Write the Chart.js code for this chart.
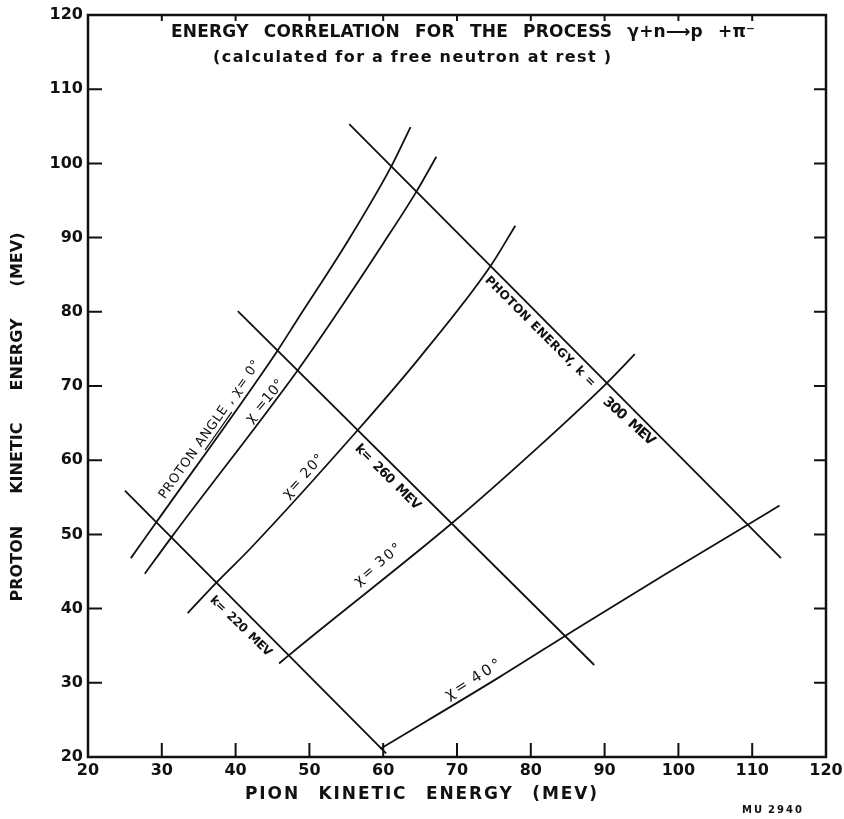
<!DOCTYPE html>
<html>
<head>
<meta charset="utf-8">
<script src="https://cdn.jsdelivr.net/npm/chart.js@4.4.0/dist/chart.umd.min.js"></script>
<style>
  html, body { margin: 0; padding: 0; background: #fff; }
  canvas { display: block; }
</style>
</head>
<body>
<canvas id="chart" width="844" height="819"></canvas>
<script>
// points, [pion T, proton T] in MeV
const chi0 = [[25.8, 46.8], [29.3, 51.7], [45.7, 74.8], [48.4, 79.0], [55.0, 89.2], [61.1, 99.6], [63.7, 104.9]];
const chi10 = [[27.7, 44.7], [31.3, 49.6], [48.4, 72.1], [53.2, 79.0], [60.0, 89.2], [64.5, 96.2], [67.2, 100.9]];
const chi20 = [[33.5, 39.4], [37.4, 43.5], [42.0, 48.1], [56.5, 64.0], [65.0, 73.9], [74.5, 86.1], [77.9, 91.6]];
const chi30 = [[45.9, 32.6], [47.2, 33.7], [69.3, 51.5], [80.6, 61.4], [90.3, 70.4], [94.1, 74.3]];
const chi40 = [[59.6, 21.1], [75.8, 30.8], [86.7, 37.6], [98.0, 44.5], [109.4, 51.3], [113.7, 53.9]];

// photon energy lines
const k220 = [[25.0, 55.9], [60.4, 20.5]];
const k260 = [[40.3, 80.1], [88.6, 32.4]];
const k300 = [[55.4, 105.3], [113.9, 46.8]];

const xTickValues = [20, 30, 40, 50, 60, 70, 80, 90, 100, 110, 120];
const yTickValues = [20, 30, 40, 50, 60, 70, 80, 90, 100, 110, 120];

// text written along the curves
const notes = [
  { text: 'PROTON ANGLE , χ= 0°', x: 36.5, y: 64.1, angle: -54.8, size: 13, weight: 'normal', len: 166, under: 'ANGLE' },
  { text: 'χ =10°', x: 44.0, y: 67.9, angle: -50, size: 14, weight: 'normal', len: 52 },
  { text: 'χ= 20°', x: 49.2, y: 57.8, angle: -47.5, size: 14, weight: 'normal', len: 54 },
  { text: 'k= 260 MEV', x: 60.6, y: 57.7, angle: 45, size: 13, weight: 'bold', len: 87 },
  { text: 'PHOTON ENERGY, k =', x: 81.25, y: 77.3, angle: 45, size: 12, weight: 'bold', len: 151 },
  { text: '300 MEV', x: 93.3, y: 65.2, angle: 42, size: 14, weight: 'bold', len: 65 },
  { text: 'k= 220 MEV', x: 40.7, y: 37.6, angle: 44, size: 12, weight: 'bold', len: 81 },
  { text: 'χ= 30°', x: 59.3, y: 45.9, angle: -40, size: 14, weight: 'normal', len: 57 },
  { text: 'χ= 40°', x: 72.2, y: 30.4, angle: -32, size: 15, weight: 'normal', len: 63 }
];

const ink = '#111';
const family = '"DejaVu Sans", sans-serif';

// writes t centred on (cx, cy), word gaps of gapEm, stretched to len pixels by letter spacing
function drawText(ctx, t, cx, cy, angle, size, weight, len, gapEm, under) {
  ctx.save();
  ctx.translate(cx, cy);
  ctx.rotate(angle * Math.PI / 180);
  ctx.font = weight + ' ' + size + 'px ' + family;
  ctx.textAlign = 'left';
  ctx.textBaseline = 'middle';
  ctx.letterSpacing = '0px';
  const words = t.split(' ');
  const gap = gapEm * size;
  let widths = words.map(w => ctx.measureText(w).width);
  const total = widths.reduce((s, v) => s + v, 0) + gap * (words.length - 1);
  const chars = words.reduce((s, w) => s + w.length - 1, 0);
  const ls = len && chars > 0 ? (len - total) / chars : 0;
  widths = words.map((w, i) => widths[i] + ls * (w.length - 1));
  const full = widths.reduce((s, v) => s + v, 0) + gap * (words.length - 1);
  ctx.letterSpacing = ls + 'px';
  let px = -full / 2;
  words.forEach((w, i) => {
    ctx.fillText(w, px, 0);
    if (under && w === under) {
      ctx.lineWidth = 1.2;
      ctx.beginPath();
      ctx.moveTo(px, size * 0.6);
      ctx.lineTo(px + widths[i], size * 0.6);
      ctx.stroke();
    }
    px += widths[i] + gap;
  });
  ctx.restore();
}

const frame = {
  id: 'frame',
  afterDraw(chart) {
    const { ctx, chartArea: a, scales: { x, y } } = chart;
    ctx.save();
    ctx.strokeStyle = ink;
    ctx.fillStyle = ink;
    ctx.lineWidth = 2.5;
    ctx.strokeRect(a.left, a.top, a.right - a.left, a.bottom - a.top);

    // inward tick marks
    ctx.lineWidth = 2;
    ctx.beginPath();
    xTickValues.slice(1, -1).forEach(v => {
      const px = x.getPixelForValue(v);
      ctx.moveTo(px, a.bottom); ctx.lineTo(px, a.bottom - 14);
      ctx.moveTo(px, a.top); ctx.lineTo(px, a.top + 6);
    });
    yTickValues.slice(1, -1).forEach(v => {
      const py = y.getPixelForValue(v);
      ctx.moveTo(a.left, py); ctx.lineTo(a.left + 14, py);
      ctx.moveTo(a.right, py); ctx.lineTo(a.right - 12, py);
    });
    ctx.stroke();

    notes.forEach(n => {
      drawText(ctx, n.text, x.getPixelForValue(n.x), y.getPixelForValue(n.y), n.angle,
        n.size, n.weight, n.len, 0.45, n.under);
    });

    // titles
    drawText(ctx, 'ENERGY CORRELATION FOR THE PROCESS γ+n⟶p +π⁻', 463, 33, 0, 17, 'bold', 584, 0.9);
    drawText(ctx, '(calculated for a free neutron at rest )', 412, 58, 0, 16, 'bold', 398, 0.5);
    drawText(ctx, 'PION KINETIC ENERGY (MEV)', 421, 795, 0, 17, 'bold', 352, 1.2);
    drawText(ctx, 'PROTON KINETIC ENERGY (MEV)', 18, 417, -90, 16, 'bold', 369, 2);
    drawText(ctx, 'MU 2940', 772, 810, 0, 10, 'bold', 60, 0.6);
    ctx.restore();
  }
};

const curves = [chi0, chi10, chi20, chi30, chi40, k220, k260, k300];

new Chart(document.getElementById('chart'), {
  type: 'scatter',
  data: {
    datasets: curves.map(pts => ({
      data: pts.map(p => ({ x: p[0], y: p[1] })),
      showLine: true,
      pointRadius: 0,
      borderColor: ink,
      borderWidth: 1.8,
      cubicInterpolationMode: 'monotone',
      fill: false
    }))
  },
  options: {
    responsive: false,
    animation: false,
    devicePixelRatio: 1,
    layout: { padding: { left: 0, right: 18, top: 15, bottom: 0 } },
    plugins: { legend: { display: false }, tooltip: { enabled: false } },
    scales: {
      x: {
        type: 'linear', min: 20, max: 120,
        afterBuildTicks: s => { s.ticks = xTickValues.map(v => ({ value: v })); },
        afterFit: s => { s.height = 62; s.paddingLeft = 0; s.paddingRight = 0; },
        grid: { display: false, drawTicks: false },
        border: { display: false },
        ticks: { color: ink, font: { family: family, size: 16, weight: 'bold' }, padding: 4, maxRotation: 0, autoSkip: false }
      },
      y: {
        type: 'linear', min: 20, max: 120,
        afterBuildTicks: s => { s.ticks = yTickValues.map(v => ({ value: v })); },
        afterFit: s => { s.width = 88; s.paddingTop = 0; s.paddingBottom = 0; },
        grid: { display: false, drawTicks: false },
        border: { display: false },
        ticks: { color: ink, font: { family: family, size: 16, weight: 'bold' }, padding: 5, autoSkip: false }
      }
    }
  },
  plugins: [frame]
});
</script>
</body>
</html>
